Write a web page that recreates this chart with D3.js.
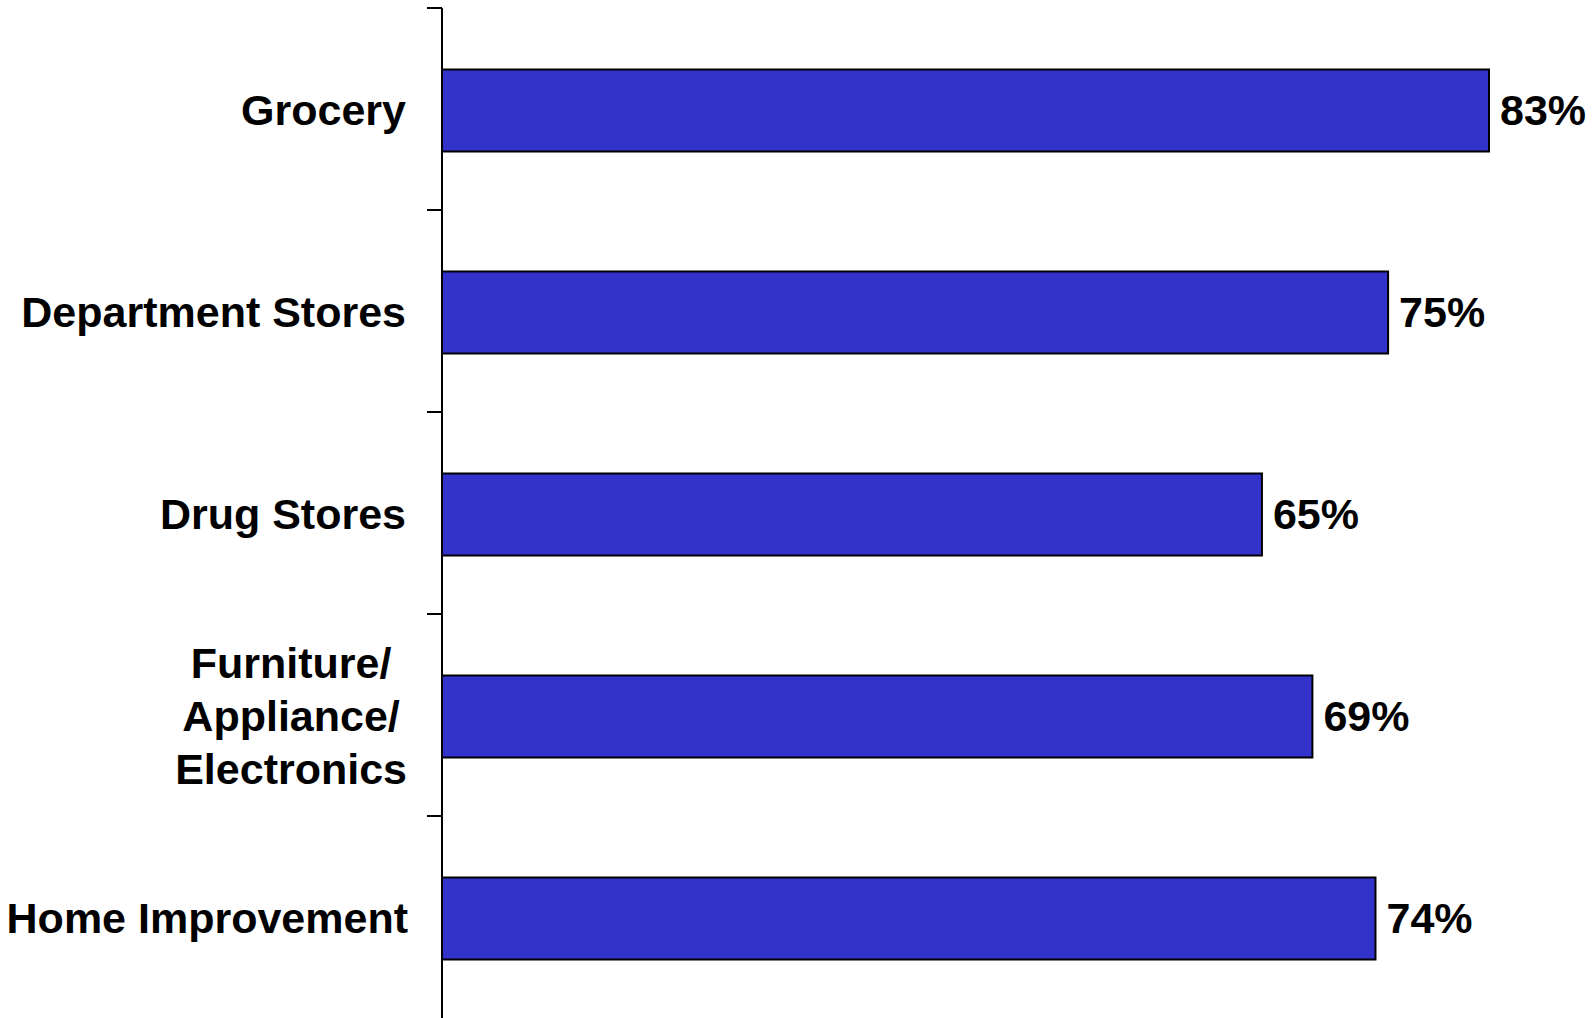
<!DOCTYPE html>
<html>
<head>
<meta charset="utf-8">
<script src="https://cdn.jsdelivr.net/npm/d3@7"></script>
<style>
  html, body { margin: 0; padding: 0; background: #fff; }
  svg { display: block; }
  text { font-family: "Liberation Sans", Arial, Helvetica, sans-serif; font-weight: bold; fill: #000; }
</style>
</head>
<body>
<svg id="chart" width="1592" height="1018"></svg>
<script>
const categories = ["Grocery", "Department Stores", "Drug Stores", "Furniture/ Appliance/ Electronics", "Home Improvement"];
const categoryLines = [["Grocery"], ["Department Stores"], ["Drug Stores"], ["Furniture/", "Appliance/", "Electronics"], ["Home Improvement"]];
const values = [83, 75, 65, 69, 74];
const valueLabels = ["83%", "75%", "65%", "69%", "74%"];

const W = 1592, H = 1018;
const axisX = 442;
const svg = d3.select("#chart");

const x = d3.scaleLinear().domain([0, 83]).range([axisX, 1489]);
const pInner = 0.594;
const y = d3.scaleBand().domain(categories).range([9.5, 1019.5])
  .paddingInner(pInner).paddingOuter(pInner / 2);
const yTicks = d3.scaleBand().domain(categories).range([8, 1018]).padding(0);

// bars
svg.append("g").selectAll("rect")
  .data(values)
  .join("rect")
  .attr("x", x(0))
  .attr("y", (d, i) => y(categories[i]))
  .attr("width", d => x(d) - x(0))
  .attr("height", y.bandwidth())
  .attr("fill", "#3333CC")
  .attr("stroke", "#000")
  .attr("stroke-width", 2);

// axis line
svg.append("line")
  .attr("x1", axisX).attr("x2", axisX)
  .attr("y1", 8).attr("y2", H)
  .attr("stroke", "#000").attr("stroke-width", 2);

// ticks at category boundaries
svg.append("g").selectAll("line")
  .data(categories)
  .join("line")
  .attr("x1", axisX - 15).attr("x2", axisX)
  .attr("y1", d => yTicks(d)).attr("y2", d => yTicks(d))
  .attr("stroke", "#000").attr("stroke-width", 2);

// category labels
const labelRight = 406;
const lineH = 53;
const fs = 43;
categoryLines.forEach((lines, i) => {
  const cy = y(categories[i]) + y.bandwidth() / 2 - 1;
  const g = svg.append("g");
  const texts = g.selectAll("text")
    .data(lines)
    .join("text")
    .attr("font-size", fs)
    .attr("dominant-baseline", "central")
    .attr("y", (d, j) => cy + (j - (lines.length - 1) / 2) * lineH)
    .text(d => d);
  if (lines.length === 1) {
    texts.attr("text-anchor", "end").attr("x", labelRight + (i === 4 ? 2 : 0));
  } else {
    let maxW = 0;
    texts.each(function () { maxW = Math.max(maxW, this.getComputedTextLength()); });
    texts.attr("text-anchor", "middle").attr("x", labelRight + 1 - maxW / 2);
  }
});

// value labels
svg.append("g").selectAll("text")
  .data(values)
  .join("text")
  .attr("x", d => x(d) + 11)
  .attr("y", (d, i) => y(categories[i]) + y.bandwidth() / 2 - 1)
  .attr("dominant-baseline", "central")
  .attr("font-size", 43)
  .text((d, i) => valueLabels[i]);
</script>
</body>
</html>
